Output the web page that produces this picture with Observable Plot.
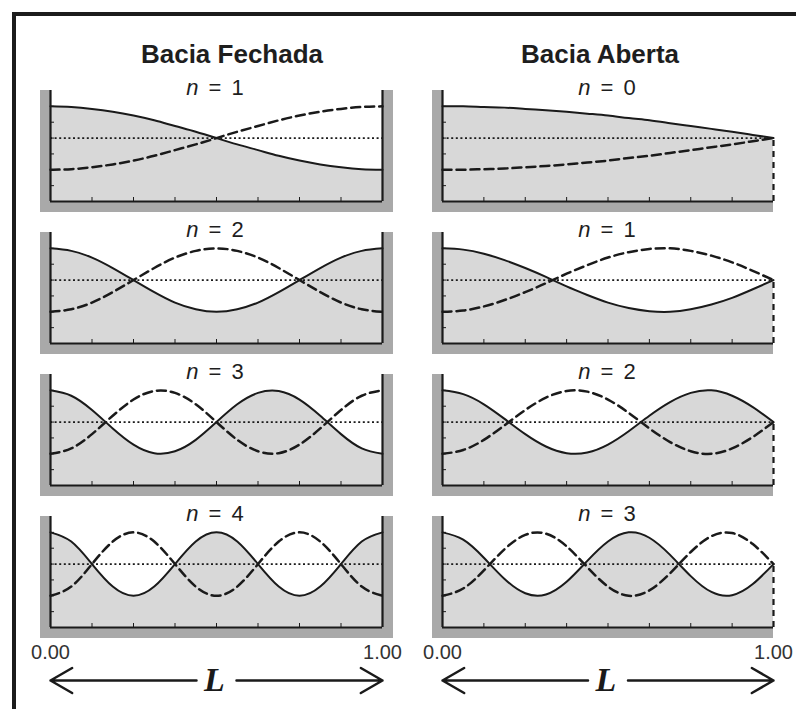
<!DOCTYPE html>
<html><head><meta charset="utf-8">
<script src="https://cdn.jsdelivr.net/npm/d3@7"></script>
<script src="https://cdn.jsdelivr.net/npm/@observablehq/plot@0.6"></script>
<style>
html,body{margin:0;padding:0;background:#fff;}
body{width:796px;height:709px;overflow:hidden;position:relative;font-family:"Liberation Sans",Arial,sans-serif;}
#frame{position:absolute;left:12px;top:12px;width:900px;height:900px;border-left:4px solid #1c1c1c;border-top:4px solid #1c1c1c;}
.title{position:absolute;font-weight:bold;font-size:26px;color:#1e1e1e;transform:translateX(-50%);white-space:nowrap;line-height:1;}
.ntitle{position:absolute;font-size:22px;word-spacing:4px;color:#1e1e1e;transform:translateX(-50%);white-space:nowrap;line-height:1;}
.panel{position:absolute;}
.panel svg{max-width:none !important;}
</style></head><body>
<div id="frame"></div>
<div id="root"></div>
<script>
// ---- data ----
const columnTitles = ["Bacia Fechada", "Bacia Aberta"];
const closedModes = [1, 2, 3, 4];
const openModes = [0, 1, 2, 3];
const xSamples = [0, 0.0625, 0.125, 0.1875, 0.25, 0.3125, 0.375, 0.4375, 0.5, 0.5625, 0.625, 0.6875, 0.75, 0.8125, 0.875, 0.9375, 1];

const closedN1Solid  = [1, 0.98, 0.92, 0.83, 0.71, 0.56, 0.38, 0.2, 0, -0.2, -0.38, -0.56, -0.71, -0.83, -0.92, -0.98, -1];
const closedN1Dashed = [-1, -0.98, -0.92, -0.83, -0.71, -0.56, -0.38, -0.2, 0, 0.2, 0.38, 0.56, 0.71, 0.83, 0.92, 0.98, 1];
const closedN2Solid  = [1, 0.92, 0.71, 0.38, 0, -0.38, -0.71, -0.92, -1, -0.92, -0.71, -0.38, 0, 0.38, 0.71, 0.92, 1];
const closedN2Dashed = [-1, -0.92, -0.71, -0.38, 0, 0.38, 0.71, 0.92, 1, 0.92, 0.71, 0.38, 0, -0.38, -0.71, -0.92, -1];
const closedN3Solid  = [1, 0.83, 0.38, -0.2, -0.71, -0.98, -0.92, -0.56, 0, 0.56, 0.92, 0.98, 0.71, 0.2, -0.38, -0.83, -1];
const closedN3Dashed = [-1, -0.83, -0.38, 0.2, 0.71, 0.98, 0.92, 0.56, 0, -0.56, -0.92, -0.98, -0.71, -0.2, 0.38, 0.83, 1];
const closedN4Solid  = [1, 0.71, 0, -0.71, -1, -0.71, 0, 0.71, 1, 0.71, 0, -0.71, -1, -0.71, 0, 0.71, 1];
const closedN4Dashed = [-1, -0.71, 0, 0.71, 1, 0.71, 0, -0.71, -1, -0.71, 0, 0.71, 1, 0.71, 0, -0.71, -1];

const openN0Solid  = [1, 1, 0.98, 0.96, 0.92, 0.88, 0.83, 0.77, 0.71, 0.63, 0.56, 0.47, 0.38, 0.29, 0.2, 0.1, 0];
const openN0Dashed = [-1, -1, -0.98, -0.96, -0.92, -0.88, -0.83, -0.77, -0.71, -0.63, -0.56, -0.47, -0.38, -0.29, -0.2, -0.1, 0];
const openN1Solid  = [1, 0.96, 0.83, 0.63, 0.38, 0.1, -0.2, -0.47, -0.71, -0.88, -0.98, -1, -0.92, -0.77, -0.56, -0.29, 0];
const openN1Dashed = [-1, -0.96, -0.83, -0.63, -0.38, -0.1, 0.2, 0.47, 0.71, 0.88, 0.98, 1, 0.92, 0.77, 0.56, 0.29, 0];
const openN2Solid  = [1, 0.88, 0.56, 0.1, -0.38, -0.77, -0.98, -0.96, -0.71, -0.29, 0.2, 0.63, 0.92, 1, 0.83, 0.47, 0];
const openN2Dashed = [-1, -0.88, -0.56, -0.1, 0.38, 0.77, 0.98, 0.96, 0.71, 0.29, -0.2, -0.63, -0.92, -1, -0.83, -0.47, 0];
const openN3Solid  = [1, 0.77, 0.2, -0.47, -0.92, -0.96, -0.56, 0.1, 0.71, 1, 0.83, 0.29, -0.38, -0.88, -0.98, -0.63, 0];
const openN3Dashed = [-1, -0.77, -0.2, 0.47, 0.92, 0.96, 0.56, -0.1, -0.71, -1, -0.83, -0.29, 0.38, 0.88, 0.98, 0.63, 0];

const xDomain = [0, 1];
const yDomain = [-2, 1.5];
const xTicks = [0.125, 0.25, 0.375, 0.5, 0.625, 0.75, 0.875];
const yTicks = [-1.5, -1, -0.5, 0, 0.5, 1];
const xEndLabels = [0, 1];
const lengthLabel = "L";

// ---- styling ----
const ink = "#1a1a1a";
const wallGray = "#a9a9a9";
const waterGray = "#d8d8d8";

const solids = [[closedN1Solid, closedN2Solid, closedN3Solid, closedN4Solid],
                [openN0Solid, openN1Solid, openN2Solid, openN3Solid]];
const dasheds = [[closedN1Dashed, closedN2Dashed, closedN3Dashed, closedN4Dashed],
                 [openN0Dashed, openN1Dashed, openN2Dashed, openN3Dashed]];
const modes = [closedModes, openModes];

const root = document.getElementById("root");
const colLeft = [50, 442];
const colWidth = [332, 331];
const rowTop0 = 90, rowStep = 142, plotH = 111;
const mL = 30, mR = 30, mT = 2;

// column titles
const titleCenters = [232, 600];
columnTitles.forEach((t, c) => {
  const d = document.createElement("div");
  d.className = "title";
  d.textContent = t;
  d.style.left = titleCenters[c] + "px";
  d.style.top = "41px";
  root.appendChild(d);
});

const ntitleCenters = [215, 607];

for (let c = 0; c < 2; c++) {
  for (let r = 0; r < 4; r++) {
    const closed = c === 0;
    const last = r === 3;
    const solid = solids[c][r], dashed = dasheds[c][r];
    const data = xSamples.map((x, i) => ({x, s: solid[i], d: dashed[i]}));
    const mB = last ? 75 : 14;
    const xMid = (xDomain[0] + xDomain[1]) / 2;
    const marks = [
      Plot.rect([{}], {x1: xDomain[0], x2: xDomain[1], y1: yDomain[0], y2: yDomain[1], fill: wallGray,
        insetLeft: -10, insetBottom: -11, insetRight: closed ? -11 : 0}),
      Plot.rect([{}], {x1: xDomain[0], x2: xDomain[1], y1: yDomain[0], y2: yDomain[1], fill: "white"}),
      Plot.areaY(data, {x: "x", y1: yDomain[0], y2: "s", fill: waterGray, curve: "natural"}),
      Plot.ruleY([0], {x1: xDomain[0], x2: xDomain[1], stroke: ink, strokeWidth: 1.8, strokeDasharray: "2,2.6"}),
      Plot.line(data, {x: "x", y: "d", stroke: ink, strokeWidth: 2.5, strokeDasharray: "9,5", curve: "natural"}),
      Plot.line(data, {x: "x", y: "s", stroke: ink, strokeWidth: 2, curve: "natural"}),
      Plot.ruleY([yDomain[0]], {x1: xDomain[0], x2: xDomain[1], stroke: ink, strokeWidth: 2.2}),
      Plot.ruleX([xDomain[0]], {y1: yDomain[0], y2: yDomain[1], stroke: ink, strokeWidth: 2.2}),
      closed
        ? Plot.ruleX([xDomain[1]], {y1: yDomain[0], y2: yDomain[1], stroke: ink, strokeWidth: 2.2})
        : Plot.ruleX([xDomain[1]], {y1: yDomain[0], y2: 0, stroke: ink, strokeWidth: 2.2, strokeDasharray: "6,5"}),
      Plot.axisX({ticks: xTicks, tickSize: -4, tickFormat: () => "", label: null, stroke: ink}),
      Plot.axisY({ticks: yTicks, tickSize: -4, tickFormat: () => "", label: null, stroke: ink})
    ];
    if (last) {
      marks.push(
        Plot.axisX({ticks: xEndLabels, tickSize: 0, tickPadding: 17, tickFormat: d3.format(".2f"), label: null,
          fontSize: 20, fill: "#333"}),
        Plot.arrow(xEndLabels, {x1: xMid, y1: yDomain[0], x2: d => d, y2: yDomain[0], dy: 53,
          insetStart: 20, insetEnd: 0, headLength: 15, headAngle: 60, stroke: ink, strokeWidth: 2.5}),
        Plot.text([lengthLabel], {x: xMid, y: yDomain[0], dy: 53, dx: -2, text: d => d, fontFamily: "Liberation Serif",
          fontStyle: "italic", fontWeight: "bold", fontSize: 34, fill: ink, lineAnchor: "middle"})
      );
    }
    const W = colWidth[c] + mL + mR, H = plotH + mT + mB;
    const svg = Plot.plot({
      width: W,
      height: H,
      marginLeft: mL, marginRight: mR, marginTop: mT, marginBottom: mB,
      x: {domain: xDomain},
      y: {domain: yDomain},
      style: {background: "transparent", overflow: "visible", maxWidth: "none", fontFamily: "Liberation Sans, Arial, sans-serif"},
      marks
    });
    const holder = document.createElement("div");
    holder.className = "panel";
    holder.style.left = (colLeft[c] - mL) + "px";
    holder.style.top = (rowTop0 + rowStep * r - mT) + "px";
    holder.style.width = W + "px";
    holder.style.height = H + "px";
    holder.appendChild(svg);
    root.appendChild(holder);

    const nt = document.createElement("div");
    nt.className = "ntitle";
    nt.innerHTML = "<i>n</i> = " + modes[c][r];
    nt.style.left = ntitleCenters[c] + "px";
    nt.style.top = (77 + rowStep * r) + "px";
    root.appendChild(nt);
  }
}
</script>
</body></html>
